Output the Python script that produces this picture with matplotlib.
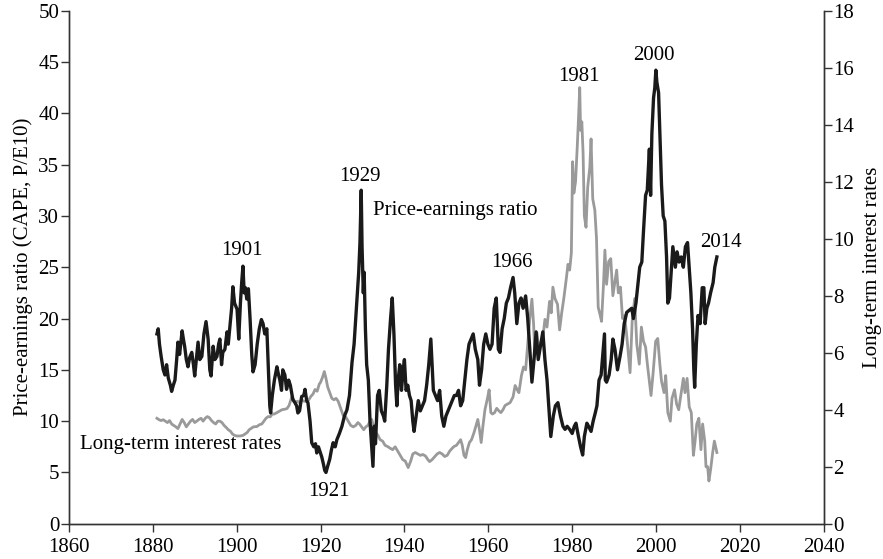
import numpy as np
import matplotlib
matplotlib.use("Agg")
from matplotlib import pyplot as plt

# CAPE (P/E10)
pe_years = [1881.0, 1881.3, 1881.6, 1882.0, 1882.5, 1882.9, 1883.3, 1883.7, 1884.2, 1884.5,
            1884.9, 1885.3, 1885.7, 1886.0, 1886.4, 1887.0, 1887.3, 1887.6, 1888.0, 1888.4,
            1888.8, 1889.3, 1889.7, 1890.0, 1890.4, 1890.8, 1891.2, 1891.7, 1892.2, 1892.7,
            1893.2, 1893.6, 1893.9, 1894.4, 1894.8, 1895.3, 1895.7, 1896.0, 1896.4, 1896.7,
            1897.2, 1897.7, 1898.0, 1898.4, 1898.8, 1899.1, 1899.5, 1900.1, 1900.5, 1900.9,
            1901.2, 1901.5, 1901.8, 1902.1, 1902.4, 1902.8, 1903.2, 1903.6, 1903.9, 1904.4,
            1904.9, 1905.4, 1905.9, 1906.3, 1906.7, 1907.2, 1907.5, 1907.9, 1908.1, 1908.5,
            1909.0, 1909.6, 1910.0, 1910.3, 1910.7, 1911.0, 1911.5, 1911.9, 1912.4, 1912.8,
            1913.4, 1913.9, 1914.3, 1914.6, 1915.0, 1915.5, 1916.0, 1916.3, 1916.7, 1917.0,
            1917.5, 1917.9, 1918.4, 1918.8, 1919.1, 1919.5, 1919.9, 1920.3, 1920.7, 1921.0,
            1921.3, 1921.7, 1922.2, 1922.6, 1923.0, 1923.5, 1923.9, 1924.5, 1925.1, 1925.7,
            1926.3, 1926.9, 1927.5, 1928.0, 1928.7, 1929.1, 1929.4, 1929.7, 1929.9, 1930.2,
            1930.4, 1930.7, 1931.0, 1931.4, 1931.8, 1932.2, 1932.5, 1932.8, 1933.1, 1933.6,
            1934.0, 1934.5, 1935.0, 1935.3, 1935.8, 1936.2, 1936.7, 1937.1, 1937.5, 1937.9,
            1938.2, 1938.5, 1938.9, 1939.3, 1939.7, 1940.0, 1940.4, 1940.8, 1941.2, 1941.6,
            1942.0, 1942.3, 1942.8, 1943.3, 1943.8, 1944.3, 1944.8, 1945.3, 1945.8, 1946.3,
            1946.6, 1946.9, 1947.4, 1947.9, 1948.4, 1948.9, 1949.4, 1949.9, 1950.4, 1950.9,
            1951.4, 1951.9, 1952.4, 1952.9, 1953.4, 1953.9, 1954.4, 1954.9, 1955.4, 1955.9,
            1956.4, 1956.9, 1957.5, 1957.9, 1958.4, 1958.9, 1959.4, 1959.9, 1960.4, 1960.9,
            1961.4, 1961.9, 1962.4, 1962.8, 1963.3, 1963.8, 1964.3, 1964.8, 1965.3, 1965.9,
            1966.3, 1966.8, 1967.3, 1967.8, 1968.3, 1968.9, 1969.4, 1969.9, 1970.4, 1970.9,
            1971.4, 1971.9, 1972.5, 1973.0, 1973.5, 1974.0, 1974.5, 1974.9, 1975.5, 1976.0,
            1976.6, 1977.2, 1977.8, 1978.3, 1978.8, 1979.4, 1980.0, 1980.5, 1980.9, 1981.5,
            1982.0, 1982.5, 1982.9, 1983.5, 1983.9, 1984.5, 1985.0, 1985.5, 1985.9, 1986.4,
            1986.9, 1987.4, 1987.7, 1987.9, 1988.2, 1988.8, 1989.3, 1989.7, 1990.2, 1990.8,
            1991.4, 1991.9, 1992.4, 1993.0, 1993.6, 1994.2, 1994.6, 1995.2, 1995.7, 1996.1,
            1996.6, 1997.0, 1997.5, 1997.9, 1998.4, 1998.7, 1999.0, 1999.4, 1999.7, 1999.95,
            2000.2, 2000.6, 2000.9, 2001.3, 2001.7, 2002.1, 2002.5, 2002.8, 2003.2, 2003.6,
            2004.0, 2004.6, 2005.0, 2005.5, 2006.0, 2006.5, 2007.0, 2007.5, 2007.9, 2008.3,
            2008.7, 2009.0, 2009.2, 2009.6, 2010.0, 2010.5, 2011.0, 2011.4, 2011.7, 2012.1,
            2012.5, 2013.0, 2013.6, 2014.0, 2014.5]
pe_values = [18.5, 19.0, 17.5, 16.3, 15.0, 14.5, 15.5, 14.2, 13.5, 12.9,
             13.5, 14.0, 16.0, 17.7, 16.5, 18.8, 18.0, 17.3, 16.0, 15.3,
             16.2, 16.7, 15.5, 14.4, 16.0, 17.7, 16.0, 16.3, 18.5, 19.7,
             18.0, 15.0, 14.4, 17.3, 16.0, 16.3, 17.5, 18.0, 15.5, 16.7,
             17.0, 18.7, 17.5, 19.2, 21.0, 23.1, 21.5, 20.9, 18.0, 21.5,
             23.5, 25.1, 22.5, 23.0, 21.9, 22.9, 20.0, 16.5, 14.8, 15.5,
             17.5, 19.0, 19.9, 19.5, 18.5, 19.0, 15.7, 11.5, 10.8, 12.5,
             14.0, 15.3, 14.5, 14.0, 13.0, 15.0, 14.5, 13.1, 14.0, 13.5,
             12.1, 11.8, 11.5, 10.8, 11.0, 12.4, 12.5, 13.1, 12.0, 11.8,
             10.0, 7.9, 7.5, 7.8, 6.9, 7.5, 7.0, 6.5, 5.8, 5.2,
             5.0, 5.6, 6.3, 7.2, 7.9, 7.5, 8.2, 8.8, 9.5, 10.5,
             11.1, 12.5, 15.7, 17.5, 21.9, 24.5, 27.4, 32.5, 27.0, 22.5,
             24.5, 19.0, 15.5, 14.0, 10.0, 7.5, 5.6, 9.5, 7.8, 12.5,
             13.0, 11.0, 10.5, 10.0, 13.5, 17.0, 20.0, 22.0, 18.5, 13.5,
             11.5, 14.0, 15.5, 13.0, 15.0, 16.0, 13.0, 13.5, 12.5, 12.0,
             10.0, 9.0, 10.5, 12.0, 11.0, 11.5, 12.0, 13.5, 15.5, 18.0,
             15.5, 13.0, 12.5, 12.0, 13.0, 10.5, 9.5, 10.5, 11.0, 11.5,
             12.0, 12.5, 12.5, 13.0, 11.5, 12.0, 14.0, 16.0, 17.5, 18.0,
             18.5, 17.0, 16.0, 13.5, 15.0, 17.5, 18.5, 17.5, 17.0, 17.5,
             21.0, 22.0, 17.0, 16.7, 19.0, 20.0, 21.5, 22.0, 23.0, 24.0,
             22.5, 19.5, 21.5, 22.0, 21.0, 22.2, 20.0, 17.0, 13.8, 16.0,
             18.7, 16.0, 17.5, 18.7, 16.0, 14.0, 11.0, 8.5, 10.5, 11.5,
             11.8, 10.5, 9.5, 9.2, 9.5, 9.2, 8.8, 9.5, 9.8, 8.5,
             7.5, 6.7, 8.5, 9.8, 9.5, 9.0, 10.0, 10.8, 11.5, 14.0,
             14.5, 17.0, 18.5, 14.0, 13.8, 14.5, 16.0, 18.0, 17.0, 15.0,
             16.3, 17.5, 19.5, 20.6, 20.8, 21.0, 20.0, 21.5, 23.5, 25.0,
             25.5, 28.5, 32.0, 32.5, 36.5, 32.0, 38.0, 41.5, 42.5, 44.2,
             43.0, 42.0, 38.0, 33.0, 30.0, 29.5, 26.0, 21.5, 22.0, 24.5,
             27.0, 25.0, 26.5, 25.5, 26.0, 25.0, 27.0, 27.4, 25.0, 22.5,
             19.0, 15.0, 13.3, 17.5, 20.3, 19.5, 23.0, 23.0, 19.5, 21.0,
             21.5, 22.5, 23.5, 25.0, 26.0]

# long-term interest rates, percent
rate_years = [1881.0, 1881.5, 1882.0, 1882.5, 1883.0, 1883.5, 1884.0, 1884.5, 1885.0, 1885.5,
              1886.0, 1886.5, 1887.0, 1887.5, 1888.0, 1888.5, 1889.0, 1889.5, 1890.0, 1890.5,
              1891.0, 1891.5, 1892.0, 1892.5, 1893.0, 1893.5, 1894.0, 1894.5, 1895.0, 1895.5,
              1896.0, 1896.5, 1897.0, 1897.5, 1898.0, 1898.5, 1899.0, 1899.5, 1900.0, 1900.8,
              1901.5, 1902.0, 1902.5, 1903.0, 1903.5, 1904.0, 1904.8, 1905.5, 1906.0, 1906.5,
              1907.0, 1907.5, 1908.0, 1908.5, 1909.0, 1909.6, 1910.2, 1910.8, 1911.5, 1912.0,
              1912.5, 1913.2, 1913.6, 1914.0, 1914.5, 1915.0, 1915.5, 1916.0, 1916.7, 1917.2,
              1917.7, 1918.2, 1918.7, 1919.2, 1919.7, 1920.0, 1920.5, 1920.9, 1921.3, 1921.7,
              1922.2, 1922.7, 1923.2, 1923.7, 1924.2, 1924.8, 1925.4, 1926.0, 1926.6, 1927.2,
              1927.8, 1928.4, 1928.9, 1929.3, 1929.8, 1930.3, 1930.8, 1931.3, 1931.8, 1932.2,
              1932.7, 1933.2, 1933.7, 1934.2, 1934.8, 1935.4, 1936.0, 1936.6, 1937.2, 1937.8,
              1938.4, 1939.0, 1939.6, 1940.2, 1940.9, 1941.5, 1942.0, 1942.6, 1943.2, 1943.8,
              1944.4, 1945.0, 1945.6, 1946.0, 1946.6, 1947.2, 1947.8, 1948.4, 1949.0, 1949.6,
              1950.2, 1950.8, 1951.4, 1951.8, 1952.4, 1952.9, 1953.4, 1953.8, 1954.2, 1954.6,
              1955.0, 1955.5, 1956.0, 1956.6, 1957.0, 1957.5, 1957.9, 1958.3, 1958.7, 1959.2,
              1959.8, 1960.2, 1960.6, 1961.0, 1961.5, 1962.0, 1962.6, 1963.0, 1963.5, 1964.0,
              1964.6, 1965.2, 1965.9, 1966.4, 1966.9, 1967.3, 1967.9, 1968.4, 1968.9, 1969.4,
              1969.9, 1970.4, 1970.8, 1971.1, 1971.6, 1972.0, 1972.6, 1973.0, 1973.5, 1974.0,
              1974.6, 1975.0, 1975.4, 1975.9, 1976.5, 1977.0, 1977.5, 1978.0, 1978.6, 1979.0,
              1979.4, 1979.8, 1980.1, 1980.4, 1980.8, 1981.2, 1981.5, 1981.8, 1982.0, 1982.3,
              1982.6, 1982.9, 1983.3, 1983.7, 1984.2, 1984.5, 1984.9, 1985.4, 1985.8, 1986.2,
              1986.7, 1987.0, 1987.5, 1987.8, 1988.2, 1988.7, 1989.2, 1989.7, 1990.1, 1990.6,
              1991.0, 1991.5, 1992.0, 1992.5, 1993.0, 1993.8, 1994.3, 1994.9, 1995.4, 1996.0,
              1996.5, 1997.0, 1997.5, 1998.0, 1998.8, 1999.3, 1999.9, 2000.4, 2000.9, 2001.3,
              2001.9, 2002.3, 2002.8, 2003.4, 2003.8, 2004.4, 2004.9, 2005.4, 2005.9, 2006.5,
              2006.9, 2007.4, 2007.9, 2008.4, 2008.9, 2009.3, 2009.7, 2010.2, 2010.7, 2011.1,
              2011.6, 2011.9, 2012.3, 2012.6, 2013.0, 2013.5, 2013.9, 2014.2, 2014.5]
rate_values = [3.70, 3.65, 3.62, 3.65, 3.60, 3.55, 3.62, 3.50, 3.45, 3.40,
               3.34, 3.50, 3.66, 3.55, 3.40, 3.50, 3.60, 3.66, 3.55, 3.60,
               3.66, 3.70, 3.60, 3.70, 3.76, 3.72, 3.62, 3.55, 3.50, 3.60,
               3.60, 3.55, 3.45, 3.38, 3.30, 3.25, 3.15, 3.10, 3.08, 3.08,
               3.10, 3.15, 3.20, 3.30, 3.35, 3.40, 3.41, 3.48, 3.50, 3.60,
               3.70, 3.76, 3.75, 3.85, 3.85, 3.90, 3.95, 4.00, 4.02, 4.04,
               4.15, 4.47, 4.35, 4.25, 4.30, 4.25, 4.35, 4.30, 4.29, 4.35,
               4.47, 4.55, 4.71, 4.65, 4.90, 4.96, 5.15, 5.34, 5.10, 4.80,
               4.60, 4.40, 4.35, 4.40, 4.30, 4.05, 3.80, 3.75, 3.60, 3.45,
               3.40, 3.45, 3.55, 3.50, 3.40, 3.30, 3.40, 3.45, 3.60, 3.66,
               3.40, 3.20, 3.10, 2.95, 2.90, 2.75, 2.71, 2.65, 2.60, 2.70,
               2.55, 2.40, 2.25, 2.20, 1.97, 2.20, 2.45, 2.50, 2.45, 2.40,
               2.43, 2.38, 2.25, 2.18, 2.25, 2.35, 2.45, 2.50, 2.45, 2.36,
               2.40, 2.55, 2.65, 2.71, 2.75, 2.85, 2.95, 2.75, 2.40, 2.32,
               2.60, 2.85, 2.95, 3.20, 3.41, 3.66, 3.30, 2.85, 3.40, 4.00,
               4.40, 4.70, 3.90, 3.85, 3.90, 4.05, 3.95, 3.90, 4.00, 4.15,
               4.20, 4.25, 4.45, 4.85, 4.70, 4.60, 5.20, 5.50, 5.40, 6.30,
               7.20, 7.88, 7.00, 5.90, 6.70, 6.10, 6.40, 6.50, 7.17, 6.90,
               7.80, 7.40, 8.30, 7.90, 7.70, 6.80, 7.40, 7.90, 8.60, 9.10,
               8.90, 9.50, 12.7, 11.6, 12.0, 13.2, 14.2, 15.3, 13.8, 14.1,
               13.0, 10.8, 10.4, 11.8, 12.5, 13.5, 11.4, 11.0, 10.0, 7.6,
               7.3, 7.1, 8.5, 9.6, 8.4, 9.2, 9.3, 8.0, 8.4, 8.9,
               8.1, 8.3, 7.2, 7.3, 6.6, 5.3, 7.1, 7.9, 6.3, 5.6,
               6.9, 6.4, 6.2, 5.5, 4.5, 5.3, 6.4, 6.5, 5.6, 5.0,
               4.6, 5.2, 3.9, 3.6, 4.4, 4.7, 4.2, 4.0, 4.5, 5.1,
               4.6, 5.1, 4.1, 3.9, 2.4, 2.9, 3.5, 3.7, 2.6, 3.5,
               2.9, 2.0, 2.0, 1.5, 1.9, 2.5, 2.9, 2.7, 2.5]

xticks = list(range(1860, 2041, 20))
yticks_left = list(range(0, 51, 5))
yticks_right = list(range(0, 19, 2))

plt.rcParams['font.family'] = ['Liberation Serif', 'DejaVu Serif']
plt.rcParams['font.size'] = 15

fig = plt.figure(figsize=(8.83, 5.59), dpi=100)
ax = fig.add_axes([0.078, 0.063, 0.855, 0.918])
ax2 = ax.twinx()

ax2.plot(rate_years, rate_values, color='#9a9a9a', lw=2.0, zorder=1)
ax.plot(pe_years, pe_values, color='#1a1a1a', lw=2.4, zorder=2)
ax.set_zorder(ax2.get_zorder() + 1)
ax.patch.set_visible(False)

ax.set_xlim(1860, 2040)
ax.set_ylim(0, 50)
ax2.set_ylim(0, 18)
ax.set_xticks(xticks)
ax.set_yticks(yticks_left)
ax2.set_yticks(yticks_right)

for a in (ax, ax2):
    a.spines['top'].set_visible(False)
    for s in a.spines.values():
        s.set_color('#333333')
        s.set_linewidth(1.0)
    a.tick_params(direction='out', length=6, width=1.0, color='#333333', pad=1)
ax.tick_params(axis='x', pad=4)

ax.set_ylabel('Price-earnings ratio (CAPE, P/E10)', labelpad=4)
ax2.set_ylabel('Long-term interest rates', labelpad=6)

ax.text(1901.2, 26.6, '1901', ha='center', va='center')
ax.text(1929.4, 33.8, '1929', ha='center', va='center')
ax.text(1932.5, 30.5, 'Price-earnings ratio', ha='left', va='center')
ax.text(1965.6, 25.5, '1966', ha='center', va='center')
ax.text(1981.6, 43.6, '1981', ha='center', va='center')
ax.text(1999.4, 45.6, '2000', ha='center', va='center')
ax.text(2015.5, 27.4, '2014', ha='center', va='center')
ax.text(1922, 3.1, '1921', ha='center', va='center')
ax.text(1862.6, 7.7, 'Long-term interest rates', ha='left', va='center')

fig.savefig('out.png', dpi=100)
